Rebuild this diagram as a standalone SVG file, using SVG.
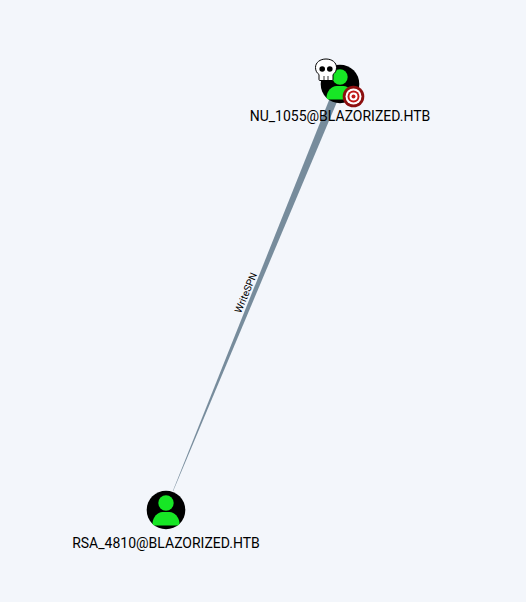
<svg xmlns="http://www.w3.org/2000/svg" width="526" height="602" viewBox="0 0 526 602">
<style>
.lbl{font-family:Roboto,"Liberation Sans",sans-serif;font-size:14px;fill:#000;text-anchor:middle}
.bg{fill:#000}.p{fill:#17e625}
</style>
<defs>
<g id="user"><circle r="19.300" class="bg"/><circle cy="-7" r="7.700" class="p"/><path class="p" d="M-13.500 13C-13 7-8.500 2-3.500 2H3.500C8.500 2 13 7 13.500 13Q13.500 15.500 11 15.500H-11Q-13.500 15.500-13.500 13Z"/></g>
</defs>
<rect width="526" height="602" fill="#f3f6fb"/>
<g id="connectors">
<path d="M172.800 491L335.500 84H344.500L173.200 491Z" fill="#778c9c"/>
<text transform="translate(249 294) rotate(-67.500)" font-family="Roboto,'Liberation Sans',sans-serif" font-size="10" text-anchor="middle" fill="#000">WriteSPN</text>
</g>
<g id="node-nu">
<use href="#user" x="340" y="84"/>
<g transform="translate(326 69)"><path d="M0-10C6-10 10.500-6.500 10.500-1.500 10.500 2 9 4 7 5.500V10.500Q7 11.500 6 11.500H-6Q-7 11.500-7 10.500V5.500C-9 4-10.500 2-10.500-1.500-10.500-6.500-6-10 0-10Z" fill="#fff" stroke="#000" stroke-width="1"/><circle cx="-3.800" cy="0" r="2.800" fill="#000"/><circle cx="3.800" cy="0" r="2.800" fill="#000"/><path d="M-2 7V11M2 7V11" stroke="#000" stroke-width=".8"/></g>
<g transform="translate(353.500 96.500)"><circle r="10.800" fill="#8c0f0f"/><circle r="8" fill="#fff"/><circle r="6" fill="#c01818"/><circle r="4" fill="#fff"/><circle r="2" fill="#c01818"/></g>
<text class="lbl" x="340" y="121">NU_1055@BLAZORIZED.HTB</text>
</g>
<g id="node-rsa">
<use href="#user" x="166" y="510"/>
<text class="lbl" x="166" y="548">RSA_4810@BLAZORIZED.HTB</text>
</g>
</svg>
